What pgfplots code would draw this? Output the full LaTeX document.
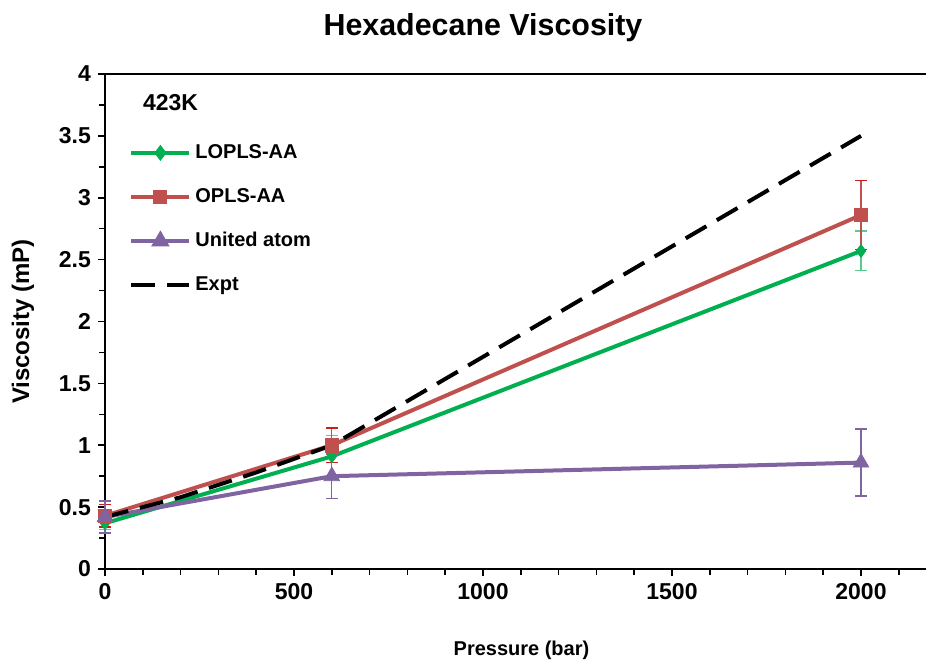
\documentclass[border=0pt]{standalone}
\usepackage{fontspec}
\setmainfont{Liberation Sans}
\usepackage{pgfplots}
\pgfplotsset{compat=1.18}

\definecolor{lopls}{RGB}{0,176,80}
\definecolor{opls}{RGB}{192,80,77}
\definecolor{uatom}{RGB}{128,100,162}
\definecolor{oplserr}{RGB}{200,30,30}

\begin{document}
\begin{tikzpicture}[x=1pt,y=1pt]
\useasboundingbox (-52.5,-45.5) rectangle (410.5,284.5);
\begin{axis}[
  scale only axis,
  width=410.5pt, height=247.5pt,
  at={(0,0)}, anchor=south west,
  xmin=0, xmax=2172, ymin=0, ymax=4,
  axis x line*=bottom, axis y line*=left,
  axis line style={line width=1pt, -},
  xtick={0,500,...,2000},
  minor xtick={100,200,...,2100},
  ytick={0,0.5,...,4},
  minor ytick={0.25,0.75,...,3.75},
  tick align=outside,
  major tick length=3.5pt, minor tick length=3pt,
  every tick/.style={black, line width=0.8pt},
  every minor tick/.style={black, line width=0.8pt},
  /pgf/number format/assume math mode=true,
  ticklabel style={font=\fontsize{11.5}{13}\selectfont\bfseries},
  yticklabel style={/pgf/number format/fixed},
  xticklabel style={/pgf/number format/fixed, /pgf/number format/1000 sep={}},
  xlabel={Pressure (bar)},
  ylabel={Viscosity (mP)},
  xlabel style={font=\fontsize{10}{12}\selectfont\bfseries,
    at={(axis description cs:0.5073,-0.1636)}, anchor=center},
  ylabel style={font=\fontsize{12}{14}\selectfont\bfseries,
    at={(axis description cs:-0.0999,0.5)}, anchor=center},
  clip=false,
  legend cell align=left,
  legend style={draw=none, fill=none, at={(rel axis cs:0,1)}, anchor=north west,
    xshift=11pt, yshift=-32pt,
    font=\fontsize{10}{12}\selectfont\bfseries,
    row sep=9.5pt, inner sep=1pt},
  legend image code/.code={%
    \draw[mark repeat=2, mark phase=2, mark options={scale=0.75}]
      plot coordinates {(0pt,0pt) (14.5pt,0pt) (29pt,0pt)};},
  error bars/y dir=both, error bars/y explicit,
]
% LOPLS-AA
\addplot[color=lopls, line width=2pt, mark=diamond*, mark size=3.2pt,
  mark options={solid, fill=lopls, line width=0.4pt},
  error bars/error bar style={line width=0.7pt, color=lopls!65},
  error bars/error mark options={rotate=90, mark size=3pt, line width=0.7pt, color=lopls!65}]
  coordinates {(0,0.37) +- (0,0.05) (600,0.91) +- (0,0.17) (2000,2.57) +- (0,0.16)};
\addlegendentry{LOPLS-AA}
% OPLS-AA
\addplot[color=opls, line width=2pt, mark=square*, mark size=3.4pt,
  mark options={solid, fill=opls, line width=0.4pt},
  error bars/error bar style={line width=0.7pt, color=opls},
  error bars/error mark options={rotate=90, mark size=3pt, line width=0.7pt, color=oplserr}]
  coordinates {(0,0.43) +- (0,0.09) (600,1.00) +- (0,0.14) (2000,2.86) +- (0,0.28)};
\addlegendentry{OPLS-AA}
% United atom
\addplot[color=uatom, line width=2pt, mark=triangle*, mark size=4.5pt,
  mark options={solid, fill=uatom, line width=0.4pt},
  error bars/error bar style={line width=0.7pt, color=uatom},
  error bars/error mark options={rotate=90, mark size=3pt, line width=0.7pt, color=uatom}]
  coordinates {(0,0.42) +- (0,0.13) (600,0.75) +- (0,0.18) (2000,0.86) +- (0,0.27)};
\addlegendentry{United atom}
% Experiment
\addplot[black, line width=2pt, dash pattern=on 12pt off 6pt, no markers,
  error bars/y dir=none]
  coordinates {(0,0.42) (200,0.58) (400,0.78) (600,1.00) (2000,3.50)};
\addlegendentry{Expt}

\draw[line width=1pt] (rel axis cs:0,1) -- (rel axis cs:1,1);
\node[font=\fontsize{11.5}{13}\selectfont\bfseries, anchor=west]
  at ([xshift=15.5pt,yshift=-14.5pt]rel axis cs:0,1) {423K};
\node[font=\fontsize{15.2}{18}\selectfont\bfseries]
  at ([xshift=189pt,yshift=23pt]rel axis cs:0,1) {Hexadecane Viscosity};
\end{axis}
\end{tikzpicture}
\end{document}
